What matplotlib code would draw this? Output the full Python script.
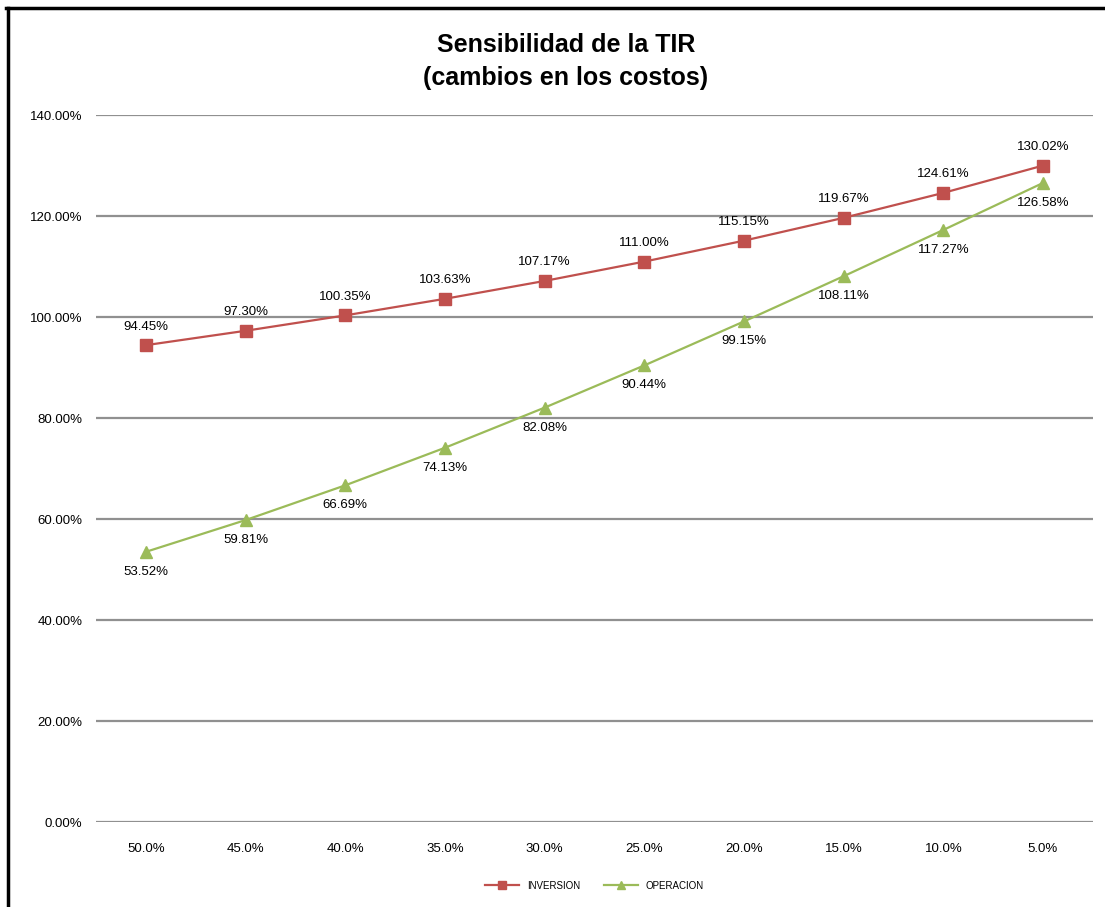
import matplotlib
matplotlib.use("Agg")
import matplotlib.pyplot as plt
from matplotlib.lines import Line2D
from matplotlib.ticker import FuncFormatter

plt.rcParams["font.family"] = ["Liberation Sans Narrow", "Liberation Sans", "DejaVu Sans"]

categories = ["50.0%", "45.0%", "40.0%", "35.0%", "30.0%", "25.0%", "20.0%", "15.0%", "10.0%", "5.0%"]
inversion = [94.45, 97.30, 100.35, 103.63, 107.17, 111.00, 115.15, 119.67, 124.61, 130.02]
operacion = [53.52, 59.81, 66.69, 74.13, 82.08, 90.44, 99.15, 108.11, 117.27, 126.58]
yticks = [0, 20, 40, 60, 80, 100, 120, 140]

RED, GREEN = "#C0504D", "#9BBB59"

fig = plt.figure(figsize=(11.05, 9.07), dpi=100)
ax = fig.add_axes([0.087, 0.0937, 0.902, 0.7793])
x = range(len(categories))

ax.plot(x, inversion, color=RED, lw=1.6, marker="s", ms=9, label="INVERSION")
ax.plot(x, operacion, color=GREEN, lw=1.6, marker="^", ms=9, label="OPERACION")

for i, v in enumerate(inversion):
    ax.annotate(f"{v:.2f}%", (i, v), xytext=(0, 9), textcoords="offset points",
                ha="center", va="bottom", fontsize=9.5)
for i, v in enumerate(operacion):
    ax.annotate(f"{v:.2f}%", (i, v), xytext=(0, -10), textcoords="offset points",
                ha="center", va="top", fontsize=9.5)

ax.set_xlim(-0.5, len(categories) - 0.5)
ax.set_ylim(0, 140)
ax.set_yticks(yticks)
ax.yaxis.set_major_formatter(FuncFormatter(lambda v, p: f"{v:.2f}%"))
ax.set_xticks(list(x))
ax.set_xticklabels(categories)
ax.tick_params(axis="both", length=0, labelsize=9.5)
ax.tick_params(axis="y", pad=10)
ax.tick_params(axis="x", pad=15)
ax.grid(axis="y", color="#909090", lw=1.6)
ax.set_axisbelow(True)
for s in ax.spines.values():
    s.set_visible(False)

fig.text(0.512, 0.950, "Sensibilidad de la TIR", ha="center", va="center",
         fontsize=18, fontweight="bold")
fig.text(0.512, 0.914, "(cambios en los costos)", ha="center", va="center",
         fontsize=18, fontweight="bold")

ax.legend(loc="center", bbox_to_anchor=(0.5, -0.09), ncol=2, frameon=False,
          fontsize=7, handlelength=3.5, markerscale=0.7, columnspacing=2.5)

# window frame on top and left
fig.add_artist(Line2D([0.005, 1.0], [0.991, 0.991], color="black", lw=2.5, transform=fig.transFigure))
fig.add_artist(Line2D([0.0075, 0.0075], [0.0, 0.991], color="black", lw=2.5, transform=fig.transFigure))

fig.savefig("out.png", dpi=100)
